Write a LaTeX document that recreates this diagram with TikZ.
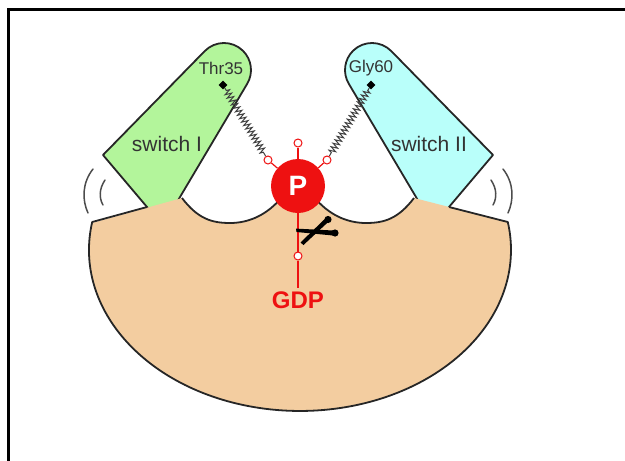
\documentclass[tikz,border=0pt]{standalone}
\usepackage{fontspec}
\setmainfont{Liberation Sans}
\usetikzlibrary{shapes.geometric,decorations.pathmorphing}

\definecolor{armgreen}{HTML}{B3F59B}
\definecolor{armcyan}{HTML}{B9FFFA}
\definecolor{basetan}{HTML}{F3CDA0}
\definecolor{pred}{HTML}{EE1111}

\begin{document}
\begin{tikzpicture}[x=1pt,y=1pt]
	\tikzstyle{outline} = [draw=black!85, line width=1.8pt, line join=round]
	\tikzstyle{spring} = [draw=black!75, line width=1pt, decorate, decoration={zigzag, segment length=4pt, amplitude=3.2pt, pre length=3pt, post length=3pt}]
	\tikzstyle{site} = [diamond, fill=black, inner sep=0pt, minimum size=9pt]
	\tikzstyle{link} = [circle, draw=pred, fill=white, line width=1pt, inner sep=0pt, minimum size=8pt]
	\tikzstyle{bond} = [draw=pred, line width=1.2pt]
	\tikzstyle{wiggle} = [draw=black!70, line width=1.5pt, line cap=round]
	\tikzstyle{label} = [text=black!80, font=\fontsize{21}{21}\selectfont]
	\tikzstyle{residue} = [text=black!80, font=\fontsize{17}{17}\selectfont]

	\useasboundingbox (0,0) rectangle (625,-461);
	\draw[line width=3pt] (8,-461) -- (8,-9) -- (625,-9);

	% the two switch arms, their feet run under the base
	\draw[outline, fill=armgreen] (155.8,-217.4) -- (103,-155) -- (204.7,-51.1)
		arc[start angle=135.6, end angle=-30.7, radius=27] -- (173.3,-208.3) -- cycle;
	\draw[outline, fill=armcyan] (440.2,-217.4) -- (493,-155) -- (391.3,-51.1)
		arc[start angle=44.4, end angle=210.7, radius=27] -- (422.7,-208.3) -- cycle;

	% base
	\fill[basetan] (92,-223) -- (182,-198)
		.. controls (198,-219) and (212,-223) .. (230,-223)
		.. controls (250,-223) and (268,-214) .. (282,-197) -- (314,-197)
		.. controls (328,-214) and (346,-223) .. (366,-223)
		.. controls (384,-223) and (398,-219) .. (414,-198) -- (507.8,-222)
		arc[start angle=10, end angle=-190, x radius=211, y radius=161] -- cycle;
	\draw[outline] (147,-207) -- (92.2,-222)
		arc[start angle=170, end angle=370, x radius=211, y radius=161] -- (449,-207);
	\draw[outline] (182,-198) .. controls (198,-219) and (212,-223) .. (230,-223)
		.. controls (250,-223) and (268,-214) .. (282,-197);
	\draw[outline] (314,-197) .. controls (328,-214) and (346,-223) .. (366,-223)
		.. controls (384,-223) and (398,-219) .. (414,-198);

	% wobble marks
	\draw[wiggle] (93,-169) .. controls (82,-183) and (82,-200) .. (88,-213);
	\draw[wiggle] (105,-180) .. controls (99,-189) and (99,-198) .. (103,-205);
	\draw[wiggle] (503,-169) .. controls (514,-183) and (514,-200) .. (508,-213);
	\draw[wiggle] (491,-180) .. controls (497,-189) and (497,-198) .. (493,-205);

	\node[label] (sw1) at (167,-144) {switch I};
	\node[label] (sw2) at (429,-144) {switch II};
	\node[residue] (thrlabel) at (221,-68) {Thr35};
	\node[residue] (glylabel) at (371,-68) {Gly60};
	\node[site] (thr) at (223,-85) {};
	\node[site] (gly) at (371,-85) {};

	% phosphate
	\node[circle, fill=pred, minimum size=54pt, inner sep=0pt, text=white,
		font=\bfseries\fontsize{28}{28}\selectfont] (P) at (298,-186) {P};
	\node[link] (oa) at (268,-160) {};
	\node[link] (ob) at (298,-143) {};
	\node[link] (oc) at (327,-160) {};
	\node[link] (od) at (298,-256) {};
	\node[text=pred, font=\bfseries\fontsize{24}{24}\selectfont] (gdp) at (298,-300) {GDP};

	\draw[bond] (P) -- (oa);
	\draw[bond] (P) -- (ob);
	\draw[bond] (P) -- (oc);
	\draw[bond] (P) -- (od);
	\draw[bond] (od) -- (gdp);

	\draw[spring] (thr) -- (oa);
	\draw[spring] (gly) -- (oc);

	% scissors
	\fill (296,-228.6) -- (333,-230.5) -- (333,-235.5) -- (296.5,-232) -- cycle;
	\fill (300.5,-242.5) -- (325.5,-218.3) -- (328.5,-221.7) -- (303.5,-245) -- cycle;
	\fill (328,-219.5) circle (3.6);
	\fill (335,-233) circle (3.6);
\end{tikzpicture}
\end{document}
